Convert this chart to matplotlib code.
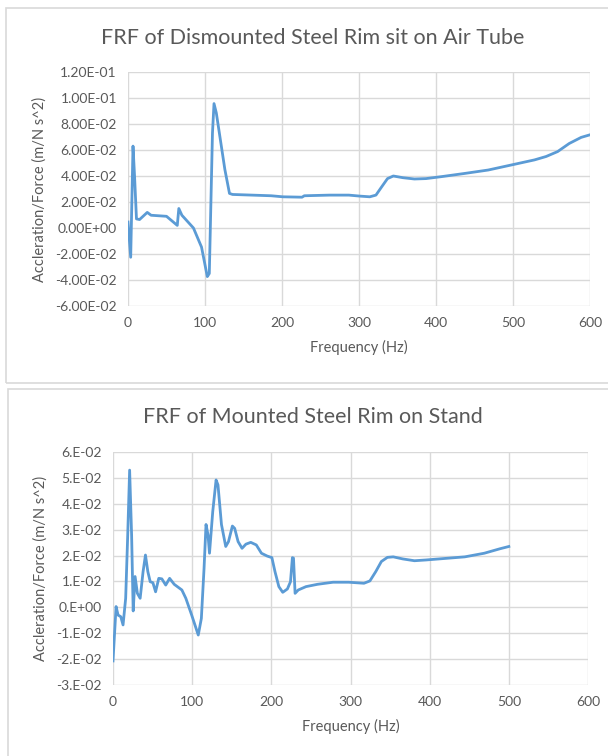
import matplotlib.pyplot as plt
from matplotlib.patches import Rectangle

plt.rcParams['font.family'] = ['Lato', 'DejaVu Sans']

# ---- top chart: dismounted rim on air tube ----
freq_top = [0, 3.5, 6.5, 8.5, 11, 15, 25, 30, 50, 64, 66, 70, 85, 95.5, 103, 105.6,
            109.7, 111.7, 114.7, 120.7, 125.8, 131.8, 135.8, 161, 186, 201, 226, 229,
            261.6, 286.7, 301.8, 314, 322, 329.5, 337, 344.6, 357, 372, 387, 407,
            437.6, 467.8, 498, 528, 543, 558, 573, 588.5, 600]
frf_top = [0.0046, -0.0225, 0.063, 0.040, 0.007, 0.0065, 0.012, 0.0098, 0.009, 0.002,
           0.015, 0.0098, 0.0, -0.0147, -0.0374, -0.035, 0.073, 0.0957, 0.0885, 0.065,
           0.045, 0.0266, 0.0258, 0.0253, 0.0248, 0.024, 0.0237, 0.0248, 0.0253, 0.0253,
           0.0245, 0.024, 0.0253, 0.0317, 0.038, 0.040, 0.0387, 0.0377, 0.038, 0.0395,
           0.042, 0.0446, 0.0485, 0.0524, 0.055, 0.0588, 0.065, 0.0697, 0.0717]
yticks_top = [-0.06, -0.04, -0.02, 0.0, 0.02, 0.04, 0.06, 0.08, 0.10, 0.12]
ylabels_top = ["-6.00E-02", "-4.00E-02", "-2.00E-02", "0.00E+00", "2.00E-02",
               "4.00E-02", "6.00E-02", "8.00E-02", "1.00E-01", "1.20E-01"]

# ---- bottom chart: mounted rim on stand ----
freq_bot = [0, 3.9, 6.4, 9.8, 12.7, 16, 18.6, 21, 23.5, 25.5, 27.9, 30.8, 34.3, 38, 41,
            44, 47, 50.4, 53.8, 57.8, 61.7, 66.6, 71.5, 77.3, 87, 92, 99.4, 107.7, 111.6,
            115, 117.5, 120, 121.9, 126, 130.2, 132.6, 137, 142.4, 145.9, 150.8, 153.7,
            158, 163, 167.9, 174, 181, 187.5, 194.8, 200.7, 204.6, 209.5, 214.4, 220.3,
            224.2, 226.6, 228, 230, 234, 243.8, 258.4, 278, 297.6, 317, 324.5, 331.9,
            339, 346.6, 354, 366, 380.8, 395.5, 420, 444.4, 469, 488.5, 500]
frf_bot = [-0.0207, 0.0003, -0.003, -0.0036, -0.0068, 0.0035, 0.028, 0.053, 0.028,
           -0.0014, 0.0119, 0.0054, 0.0035, 0.0138, 0.0202, 0.0138, 0.0099, 0.0095,
           0.006, 0.0112, 0.011, 0.0086, 0.0112, 0.0089, 0.0067, 0.0035, -0.003, -0.0107,
           -0.0043, 0.015, 0.032, 0.028, 0.0209, 0.037, 0.0492, 0.0473, 0.032, 0.0235,
           0.0254, 0.0314, 0.0305, 0.0254, 0.0228, 0.0244, 0.0251, 0.0241, 0.0209, 0.0198,
           0.0192, 0.0138, 0.008, 0.0058, 0.0071, 0.0099, 0.0192, 0.019, 0.0054, 0.0067,
           0.008, 0.0089, 0.0097, 0.0097, 0.0093, 0.0102, 0.0138, 0.0177, 0.0193, 0.0195,
           0.0187, 0.018, 0.0183, 0.0189, 0.0195, 0.0209, 0.0226, 0.0235]
yticks_bot = [-0.03, -0.02, -0.01, 0.0, 0.01, 0.02, 0.03, 0.04, 0.05, 0.06]
ylabels_bot = ["-3.E-02", "-2.E-02", "-1.E-02", "0.E+00", "1.E-02",
               "2.E-02", "3.E-02", "4.E-02", "5.E-02", "6.E-02"]

xticks = [0, 100, 200, 300, 400, 500, 600]

LINE = "#5B9BD5"
GRID = "#D9D9D9"
TXT = "#595959"

fig = plt.figure(figsize=(6.08, 7.56), dpi=100)

# chart area frames (Excel-like)
fig.patches.append(Rectangle((6 / 608, 1 - 383 / 756), 1.0, (383 - 8) / 756,
                             transform=fig.transFigure, fill=False,
                             edgecolor=GRID, lw=1.2))
fig.patches.append(Rectangle((8 / 608, -0.01), 1.0, 1 - 389 / 756 + 0.01,
                             transform=fig.transFigure, fill=False,
                             edgecolor=GRID, lw=1.2))


def style_axes(ax, x, y, yticks, ylabels, ylim):
    ax.plot(x, y, color=LINE, lw=2.0)
    ax.set_xlim(0, 600)
    ax.set_ylim(*ylim)
    ax.set_xticks(xticks)
    ax.set_yticks(yticks)
    ax.set_yticklabels(ylabels)
    ax.grid(True, color=GRID, lw=1.0)
    ax.set_axisbelow(True)
    for s in ax.spines.values():
        s.set_visible(False)
    ax.tick_params(length=0, colors=TXT, labelsize=10, pad=8)
    ax.set_xlabel("Frequency (Hz)", color=TXT, fontsize=10.5, labelpad=8)
    ax.set_ylabel("Accleration/Force (m/N s^2)", color=TXT, fontsize=10.5, labelpad=6)


ax1 = fig.add_axes([128 / 608, 1 - 306 / 756, (590 - 128) / 608, (306 - 72) / 756])
style_axes(ax1, freq_top, frf_top, yticks_top, ylabels_top, (-0.06, 0.12))
fig.text(313 / 608, 1 - 38 / 756, "FRF of Dismounted Steel Rim sit on Air Tube",
         ha="center", va="center", fontsize=15.5, color=TXT)

ax2 = fig.add_axes([113 / 608, 1 - 685 / 756, (588 - 113) / 608, (685 - 452) / 756])
style_axes(ax2, freq_bot, frf_bot, yticks_bot, ylabels_bot, (-0.03, 0.06))
fig.text(313 / 608, 1 - 417 / 756, "FRF of Mounted Steel Rim on Stand",
         ha="center", va="center", fontsize=15.5, color=TXT)

fig.savefig("out.png", dpi=100)
